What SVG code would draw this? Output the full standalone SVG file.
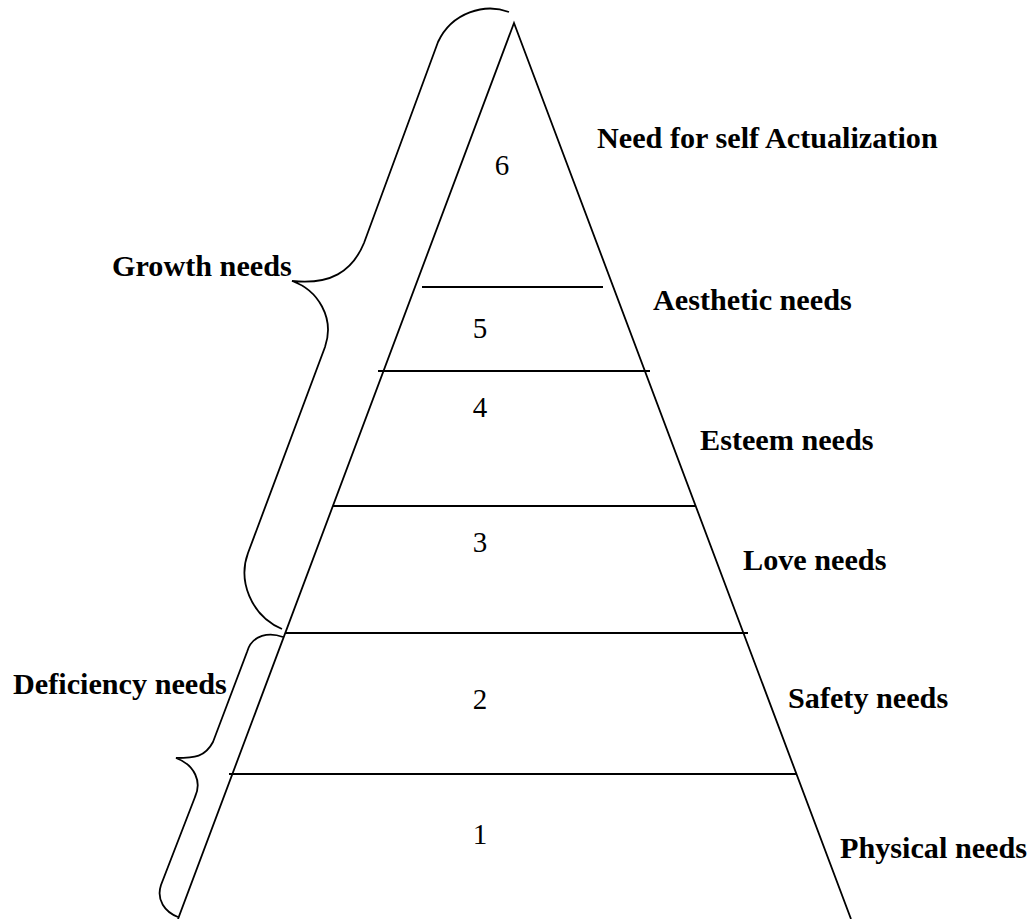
<svg xmlns="http://www.w3.org/2000/svg" width="1035" height="919" viewBox="0 0 1035 919">
<style>
.ln{stroke:#000;stroke-width:1.8;fill:none}
.lbl{font-family:"Liberation Serif","Times New Roman",serif;font-weight:bold;font-size:30.2px;fill:#000}
.num{font-family:"Liberation Serif","Times New Roman",serif;font-size:29px;fill:#000;text-anchor:middle}
</style>
<rect width="1035" height="919" fill="#fff"/>
<g id="pyramid">
<path class="ln" d="M178,919 L514,23 L851,919"/>
</g>
<g id="connectors">
<line class="ln" x1="422" y1="287" x2="603" y2="287"/>
<line class="ln" x1="378" y1="371" x2="650" y2="371"/>
<line class="ln" x1="333" y1="506" x2="695" y2="506"/>
<line class="ln" x1="285" y1="633" x2="748" y2="633"/>
<line class="ln" x1="229" y1="774" x2="796" y2="774"/>
</g>
<g id="brace-growth">
<path class="ln" d="M509,12 C485,3 452,12 438,42 L364,243 C352,272 330,285 292,281 C318,290 335,318 325,347 L248,553 C238,580 250,615 282,629"/>
<text class="lbl" x="112" y="276">Growth needs</text>
</g>
<g id="brace-deficiency">
<path class="ln" d="M283,637 C270,632 252,634 247,652 L213,742 C205,757 195,758 176,758 C195,765 202,782 195,797 L161,885 C156,900 165,912 178,917"/>
<text class="lbl" x="13" y="694">Deficiency needs</text>
</g>
<g id="level6"><text class="num" x="502" y="175">6</text><text class="lbl" x="597" y="148">Need for self Actualization</text></g>
<g id="level5"><text class="num" x="480" y="338">5</text><text class="lbl" x="653" y="310">Aesthetic needs</text></g>
<g id="level4"><text class="num" x="480" y="417">4</text><text class="lbl" x="700" y="450">Esteem needs</text></g>
<g id="level3"><text class="num" x="480" y="552">3</text><text class="lbl" x="743" y="570">Love needs</text></g>
<g id="level2"><text class="num" x="480" y="709">2</text><text class="lbl" x="788" y="708">Safety needs</text></g>
<g id="level1"><text class="num" x="480" y="844">1</text><text class="lbl" x="840" y="858">Physical needs</text></g>
</svg>
